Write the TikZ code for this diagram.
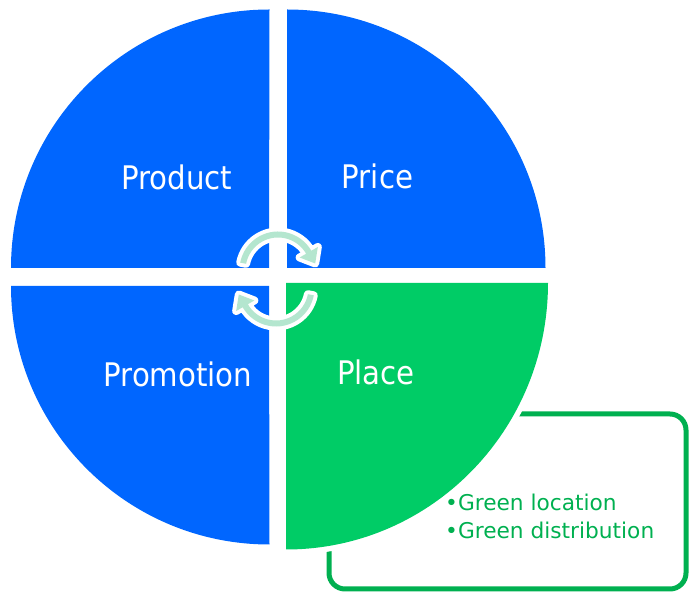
\documentclass[tikz,border=0pt]{standalone}
\usepackage{fontspec}
\setmainfont{DejaVu Sans}
\newfontfamily\labelfont{DejaVu Sans Condensed}
\definecolor{qblue}{HTML}{0066FF}
\definecolor{qgreen}{HTML}{00CC66}
\definecolor{boxgreen}{HTML}{00B050}
\definecolor{mint}{HTML}{B4E6CF}
\tikzset{
  quadlabel/.style={text=white, inner sep=0pt, anchor=base, font=\labelfont\fontsize{32.5}{32.5}\selectfont},
  boxtext/.style={text=boxgreen, inner sep=0pt, anchor=base west, font=\fontsize{21.7}{21.7}\selectfont},
  cyclearrow/.style={fill=mint, preaction={draw=white, line width=8pt, line join=round}},
}
\begin{document}
\begin{tikzpicture}[x=1pt,y=1pt]
\useasboundingbox (0,0) rectangle (689,592);
% callout box
\draw[boxgreen, line width=5pt, rounded corners=16pt] (329,3) rectangle (686,178);
% white halo of green quadrant
\draw[white, line width=11pt] (286,309) -- (548,309) arc[start angle=0, end angle=-90, x radius=262, y radius=266.5] -- cycle;
% quadrants
\fill[qgreen] (286,309) -- (548,309) arc[start angle=0, end angle=-90, x radius=262, y radius=266.5] -- cycle;
\fill[qblue] (269,324) -- (11,324) arc[start angle=180, end angle=90, radius=258.5] -- cycle;
\fill[qblue] (287,324) -- (287,582.5) arc[start angle=90, end angle=0, radius=258.5] -- cycle;
\fill[qblue] (269,306) -- (11,306) arc[start angle=180, end angle=270, radius=258.5] -- cycle;
% cycle arrows
\begin{scope}[shift={(278,322)}]
  \path[cyclearrow] (169:38.5) arc[start angle=169, end angle=30, radius=38.5]
    -- (30:46) -- (37.2,6.5) -- (30:25) -- (30:32.5)
    arc[start angle=30, end angle=169, radius=32.5] -- cycle;
\end{scope}
\begin{scope}[shift={(276,304)}, rotate=180]
  \path[cyclearrow] (169:38.5) arc[start angle=169, end angle=30, radius=38.5]
    -- (30:46) -- (37.2,6.5) -- (30:25) -- (30:32.5)
    arc[start angle=30, end angle=169, radius=32.5] -- cycle;
\end{scope}
% labels
\node[quadlabel] (product) at (177,402) {Product};
\node[quadlabel] (price) at (377.5,403) {Price};
\node[quadlabel] (promotion) at (178,205) {Promotion};
\node[quadlabel] (place) at (376,207) {Place};
\node[boxtext] (loc) at (445,81) {•Green location};
\node[boxtext] (dist) at (445,53) {•Green distribution};
\end{tikzpicture}
\end{document}
